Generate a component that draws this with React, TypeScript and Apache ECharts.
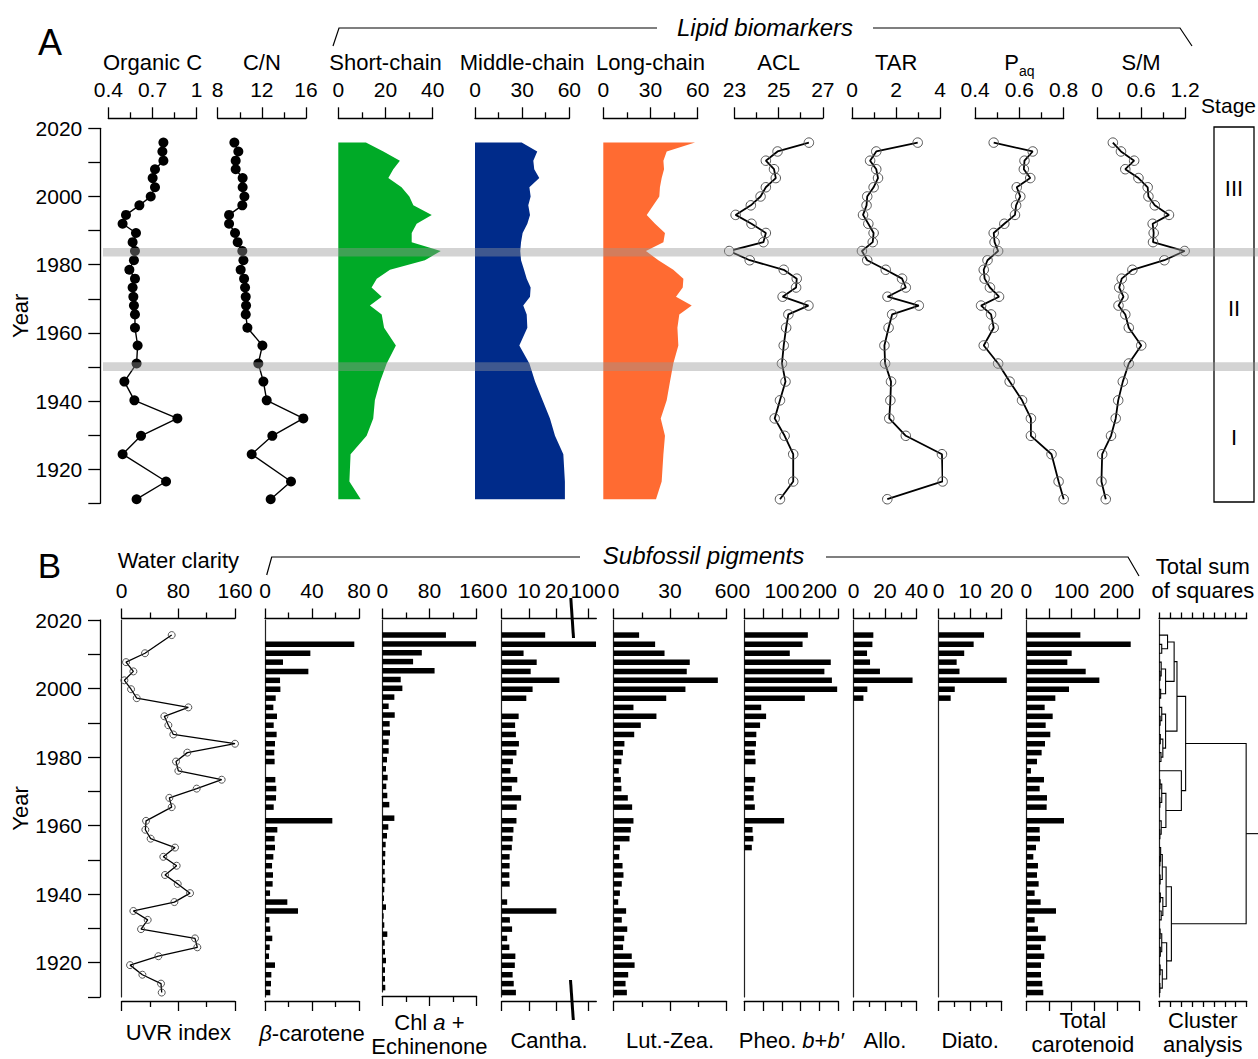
import React, { useEffect, useRef } from "react";
import * as echarts from "echarts";

const FONT = '"Liberation Sans", Arial, Helvetica, sans-serif';
const BLACK = "#000";

// ---------------- Panel A : lipid biomarkers (30 samples) ----------------
const yearsA = [2015.8, 2013.2, 2010.5, 2008.0, 2005.4, 2002.7, 2000.0, 1997.4, 1994.6, 1992.0, 1989.3, 1986.6, 1984.0, 1981.3, 1978.5, 1975.9, 1973.3, 1970.6, 1968.0, 1965.4, 1961.5, 1956.3, 1951.0, 1945.7, 1940.2, 1934.9, 1929.8, 1924.4, 1916.4, 1911.2];
const organicC = [0.774, 0.767, 0.774, 0.717, 0.701, 0.717, 0.688, 0.611, 0.52, 0.497, 0.588, 0.565, 0.581, 0.574, 0.543, 0.581, 0.565, 0.57, 0.574, 0.581, 0.581, 0.599, 0.592, 0.509, 0.577, 0.869, 0.622, 0.497, 0.792, 0.592];
const cnRatio = [9.51, 9.87, 9.63, 9.63, 10.26, 10.26, 10.42, 10.23, 9.03, 9.03, 9.57, 9.81, 10.23, 10.33, 10.08, 10.39, 10.48, 10.54, 10.57, 10.54, 10.69, 12.05, 11.68, 12.14, 12.44, 15.76, 12.95, 11.08, 14.64, 12.8];
const shortChain = [11.7, 19.1, 26.1, 23.3, 21.2, 26.8, 30.1, 31.8, 39.6, 33.2, 31.1, 31.1, 43.4, 36.7, 21.9, 16.3, 14.1, 18.4, 13.4, 18.4, 19.4, 24.4, 20.5, 17.7, 15.5, 14.8, 12.0, 5.2, 4.7, 9.5];
const middleChain = [29.7, 39.6, 37.1, 37.7, 40.9, 34.6, 35.4, 33.9, 35.0, 33.3, 30.3, 29.3, 28.8, 29.3, 31.2, 32.9, 35.4, 35.0, 30.7, 32.9, 33.3, 28.2, 34.6, 38.2, 43.0, 47.7, 50.9, 56.2, 57.2, 57.2];
const longChain = [58.3, 40.3, 38.2, 38.6, 37.1, 36.0, 35.6, 31.8, 27.6, 32.9, 39.2, 38.2, 27.1, 35.0, 44.5, 50.9, 50.5, 46.2, 56.2, 48.3, 47.1, 47.7, 44.5, 42.4, 40.3, 36.5, 39.2, 38.2, 37.1, 33.5];
const acl = [26.37, 24.95, 24.42, 24.79, 24.87, 24.42, 24.18, 23.74, 23.05, 23.77, 24.42, 24.31, 22.76, 23.69, 25.23, 25.82, 25.79, 25.18, 26.35, 25.44, 25.34, 25.23, 25.15, 25.31, 25.06, 24.82, 25.27, 25.66, 25.66, 25.06];
const tar = [2.98, 1.1, 0.82, 1.1, 1.18, 0.98, 0.69, 0.66, 0.5, 0.74, 0.98, 0.94, 0.45, 0.69, 1.53, 2.27, 2.44, 1.61, 3.03, 1.82, 1.66, 1.47, 1.5, 1.77, 1.74, 1.69, 2.44, 4.08, 4.11, 1.6];
const paq = [0.484, 0.66, 0.623, 0.62, 0.649, 0.588, 0.604, 0.585, 0.58, 0.532, 0.484, 0.488, 0.504, 0.456, 0.439, 0.443, 0.467, 0.508, 0.427, 0.472, 0.484, 0.439, 0.504, 0.556, 0.612, 0.652, 0.652, 0.745, 0.777, 0.8];
const smRatio = [0.214, 0.325, 0.505, 0.384, 0.564, 0.69, 0.7, 0.787, 0.981, 0.758, 0.772, 0.763, 1.195, 0.918, 0.481, 0.335, 0.301, 0.359, 0.291, 0.384, 0.432, 0.602, 0.432, 0.35, 0.287, 0.253, 0.189, 0.068, 0.058, 0.117];
const stageBands = [[1982.4, 1984.9], [1948.8, 1951.4]];
const stageLabels = ["III", "II", "I"];

// ---------------- Panel B : water clarity & subfossil pigments (40 samples) ----------------
const yearsB = [2015.6, 2012.9, 2010.3, 2007.7, 2005.0, 2002.4, 1999.8, 1997.2, 1994.5, 1991.9, 1989.3, 1986.6, 1983.9, 1981.3, 1978.7, 1976.0, 1973.4, 1970.8, 1968.1, 1965.4, 1961.4, 1958.8, 1956.2, 1953.6, 1950.9, 1948.3, 1945.6, 1943.0, 1940.3, 1937.7, 1935.1, 1932.5, 1929.8, 1927.1, 1924.5, 1921.9, 1919.3, 1916.5, 1913.9, 1911.3];
const uvrIndex = [70.6, null, 32.9, 6.1, 16.5, 3.8, 13.2, 21.2, 94.1, 60.2, 65.9, 72.9, 160, 92.7, 76.7, 80.0, 141.2, 105.9, 67.3, 70.6, 34.4, 33.4, 40.9, 75.3, 58.8, 77.6, 61.2, 79.1, 96.5, 74.4, 16.5, 36.7, 27.3, 103.5, 106.8, 51.8, 11.8, 29.2, 55.5, 56.5];
const betaCarotene = [null, 76.0, 38.6, 15.3, 36.9, 12.8, 13.1, 9.1, 7.1, 10.2, 7.4, 9.9, 8.5, 7.9, 8.2, null, 8.8, 9.6, 9.4, 7.4, 57.3, 10.5, 8.2, 8.5, 7.1, 6.0, 6.8, 6.5, 4.3, 19.0, 28.1, 3.7, 4.5, 6.2, 4.0, 3.4, 8.5, 5.4, 5.1, 4.5];
const chlEchinenone = [108.1, 159.3, 67.1, 52.3, 88.8, 31.3, 34.1, 20.5, 10.8, 21.1, 12.5, 13.1, 10.8, 10.8, 8.0, 6.3, 9.1, 6.8, 8.5, 11.9, 20.5, 10.2, 8.0, 5.7, 5.1, 4.6, 4.0, 5.1, 3.4, 2.8, 6.3, 2.3, 3.4, 8.5, 4.0, 4.6, 6.3, 4.6, 4.6, 5.1];
const canthaxanthin = [15.9, 102.9, 8.0, 12.8, 10.6, 21.1, 11.3, 9.0, null, 6.2, 4.9, 5.2, 6.3, 5.4, 4.1, 3.2, 5.7, 3.7, 7.1, 5.5, 5.4, 4.3, 4.0, 3.7, 2.9, 2.9, 2.8, 2.9, null, 2.0, 20.0, 3.0, 3.8, 2.0, 2.8, 5.0, 4.8, 4.0, 4.4, 5.2];
const luteinZeaxanthin = [13.6, 22.1, 27.1, 40.5, 38.9, 55.4, 38.2, 28.0, 10.6, 22.8, 14.5, 11.0, 5.8, 5.0, 4.2, 2.8, 3.9, 4.2, 7.6, 9.9, 10.6, 9.2, 8.5, 3.4, 3.0, 4.8, 5.3, 4.4, 3.4, 2.5, 6.7, 4.4, 7.3, 5.7, 5.1, 9.7, 11.2, 7.8, 6.4, 7.1];
const pheophytinB = [169, 155, 121, 230, 213, 233, 247, 161, 45, 58, 42, 32, 31, 28, 30, null, 29, 25, 25, 28, 106, 22, 24, 20]; // only the upper 24 samples
const alloxanthin = [12.6, 12.0, 8.6, 10.5, 16.8, 37.5, 8.8, 6.3]; // upper 8 samples
const diatoxanthin = [14.4, 11.1, 8.1, 5.7, 6.6, 21.6, 5.1, 3.8]; // upper 8 samples
const totalCarotenoid = [119.5, 230.8, 100.3, 90.7, 131.3, 161.5, 94.4, 64.2, 40.6, 58.3, 42.8, 53.1, 41.3, 33.9, 23.6, 10.3, 39.1, 29.5, 45.7, 45.0, 83.3, 29.5, 30.2, 21.4, 15.5, 25.8, 23.6, 27.3, 18.4, 31.7, 65.6, 18.4, 25.8, 42.8, 32.5, 39.8, 32.5, 32.5, 35.4, 37.6];
// CONISS merges: [first sample, last sample of upper part, last sample, total sum of squares]
const clusterMerges = [
  [0, 22, 39, 7.95],
  [0, 14, 22, 2.43],
  [0, 7, 14, 1.64],
  [0, 2, 7, 1.38],
  [0, 0, 2, 0.78],
  [1, 1, 2, 0.25],
  [3, 5, 7, 0.6],
  [3, 3, 5, 0.2],
  [4, 4, 5, 0.1],
  [6, 6, 7, 0.15],
  [8, 10, 14, 0.6],
  [8, 8, 10, 0.25],
  [9, 9, 10, 0.1],
  [11, 12, 14, 0.35],
  [11, 11, 12, 0.12],
  [13, 13, 14, 0.18],
  [15, 15, 22, 2.04],
  [16, 19, 22, 0.63],
  [16, 17, 19, 0.25],
  [16, 16, 17, 0.1],
  [18, 18, 19, 0.08],
  [20, 20, 22, 0.2],
  [21, 21, 22, 0.08],
  [23, 31, 39, 1.13],
  [23, 27, 31, 0.65],
  [23, 25, 27, 0.3],
  [23, 23, 25, 0.15],
  [24, 24, 25, 0.08],
  [26, 26, 27, 0.1],
  [28, 29, 31, 0.35],
  [28, 28, 29, 0.12],
  [30, 30, 31, 0.2],
  [32, 35, 39, 0.7],
  [32, 33, 35, 0.25],
  [32, 32, 33, 0.1],
  [34, 34, 35, 0.12],
  [36, 37, 39, 0.3],
  [36, 36, 37, 0.1],
  [38, 38, 39, 0.08],
];

// Canthaxanthin axis is broken between these two values
const CANTHA_BREAK = 25.5;
const CANTHA_RESUME = 93.9;
const canthaPos = (v: number) => (v <= CANTHA_BREAK ? v : CANTHA_BREAK + (v - CANTHA_RESUME));

// ---------------- layout ----------------
const Y_MIN = 1910;
const Y_MAX = 2020;
const A_TOP = 128.3;
const A_H = 375;
const B_TOP = 620;
const B_H = 377;
const B_BOTTOM_OFFSET = 4;
const BAR_H = 5.5;

const fmtNum = (v: number) => String(Math.round(v * 1000) / 1000);
const txt = (size: number, extra: any = {}) => ({ fontSize: size, color: BLACK, fontFamily: FONT, ...extra });
const AX_LINE = { show: true, onZero: false, lineStyle: { color: BLACK, width: 1.3 } };
const italic = { fontSize: 22, fontFamily: FONT, color: BLACK, fontStyle: "italic", lineHeight: 24 };
const plain = { fontSize: 22, fontFamily: FONT, color: BLACK, lineHeight: 24 };

function buildOption() {
  const grid: any[] = [];
  const xAxis: any[] = [];
  const yAxis: any[] = [];
  const series: any[] = [];

  const addGrid = (x0: number, x1: number, top: number, height: number) => {
    grid.push({ left: x0, top, width: x1 - x0, height, containLabel: false });
    return grid.length - 1;
  };
  const labelFmt = (labels?: number[]) => (v: number) =>
    !labels || labels.some((l) => Math.abs(l - v) < 1e-6) ? fmtNum(v) : "";

  const addX = (g: number, c: any, position: "top" | "bottom", opts: any) => {
    const tickLen = opts.tickLen ?? 11;
    const ax: any = {
      gridIndex: g,
      type: "value",
      position,
      offset: opts.offset ?? 0,
      min: c.min,
      max: c.max,
      axisLine: AX_LINE,
      axisTick: { show: true, length: tickLen, lineStyle: { color: BLACK, width: 1.3 } },
      minorTick: { show: !!c.minor, splitNumber: c.minor || 2, length: Math.round(tickLen * 0.55), lineStyle: { color: BLACK, width: 1.3 } },
      splitLine: { show: false },
      minorSplitLine: { show: false },
      axisLabel: opts.labels
        ? { show: true, margin: 18, hideOverlap: false, ...txt(21), formatter: c.fmt || labelFmt(c.labels) }
        : { show: false },
      name: opts.name,
      nameLocation: "middle",
      nameGap: opts.nameGap,
      nameTextStyle: { ...txt(22), lineHeight: 24, rich: opts.rich },
    };
    if (c.interval != null) ax.interval = c.interval;
    if (c.custom) {
      ax.axisTick.customValues = c.custom;
      if (opts.labels) ax.axisLabel.customValues = c.custom;
    }
    xAxis.push(ax);
    return xAxis.length - 1;
  };
  const addHiddenY = (g: number) => {
    yAxis.push({ gridIndex: g, type: "value", min: Y_MIN, max: Y_MAX, show: false });
    return yAxis.length - 1;
  };
  const addYearAxis = (g: number, offset: number) => {
    yAxis.push({
      gridIndex: g,
      type: "value",
      position: "left",
      offset,
      min: Y_MIN,
      max: Y_MAX,
      interval: 10,
      axisLine: AX_LINE,
      axisTick: { show: true, length: 12, lineStyle: { color: BLACK, width: 1.3 } },
      axisLabel: { show: true, margin: 18, ...txt(21), formatter: (v: number) => (v % 20 === 0 ? String(v) : "") },
      splitLine: { show: false },
      name: "Year",
      nameLocation: "middle",
      nameGap: 68,
      nameTextStyle: txt(22),
    });
    return yAxis.length - 1;
  };
  const addBaseline = (g: number) => {
    yAxis.push({
      gridIndex: g,
      type: "value",
      position: "left",
      offset: 0,
      min: Y_MIN,
      max: Y_MAX,
      axisLine: { show: true, onZero: false, lineStyle: { color: "#222", width: 1.2 } },
      axisTick: { show: false },
      axisLabel: { show: false },
      splitLine: { show: false },
    });
    return yAxis.length - 1;
  };

  // ---- panel A columns ----
  const paqRich = {
    p: { fontSize: 22, fontFamily: FONT, color: BLACK, padding: [0, 0, 5, 0], verticalAlign: "bottom" },
    s: { fontSize: 14, fontFamily: FONT, color: BLACK, verticalAlign: "bottom" },
  };
  const colsA: any = {
    orgC: { name: "Organic C", x0: 108.3, x1: 196.7, min: 0.4, max: 1, interval: 0.3, minor: 2 },
    cn: { name: "C/N", x0: 217.7, x1: 306, min: 8, max: 16, interval: 4, minor: 2 },
    short: { name: "Short-chain", x0: 338.3, x1: 432.7, min: 0, max: 40, interval: 20, minor: 2 },
    middle: { name: "Middle-chain", x0: 475, x1: 569.3, min: 0, max: 60, interval: 30, minor: 2 },
    long: { name: "Long-chain", x0: 603.3, x1: 697.7, min: 0, max: 60, interval: 30, minor: 2 },
    acl: { name: "ACL", x0: 734.5, x1: 822.8, min: 23, max: 27, interval: 2, minor: 2 },
    tar: { name: "TAR", x0: 852, x1: 940.2, min: 0, max: 4, interval: 2, minor: 2 },
    paq: { name: "{p|P}{s|aq}", rich: paqRich, gap: 39, x0: 975.1, x1: 1063.7, min: 0.4, max: 0.8, interval: 0.2, minor: 2 },
    sm: { name: "S/M", x0: 1097.2, x1: 1185, min: 0, max: 1.2, interval: 0.6, minor: 2 },
  };
  const axA: any = {};
  Object.keys(colsA).forEach((k, i) => {
    const c = colsA[k];
    const g = addGrid(c.x0, c.x1, A_TOP, A_H);
    const xi = addX(g, c, "top", { offset: 10, labels: true, name: c.name, rich: c.rich, nameGap: c.gap ?? 44 });
    const yi = i === 0 ? addYearAxis(g, 8) : addHiddenY(g);
    axA[k] = { xi, yi };
  });

  const dotLine = (k: string, vals: number[], filled: boolean) => {
    series.push({
      type: "line",
      xAxisIndex: axA[k].xi,
      yAxisIndex: axA[k].yi,
      data: yearsA.map((y, i) => [vals[i], y]),
      clip: false,
      symbol: "circle",
      showSymbol: true,
      symbolSize: filled ? 10 : 9.5,
      itemStyle: filled
        ? { color: BLACK }
        : { color: "rgba(255,255,255,0)", borderColor: "#555", borderWidth: 1 },
      lineStyle: { color: BLACK, width: filled ? 1.4 : 1.8 },
      silent: true,
      z: 3,
    });
  };
  const area = (k: string, vals: number[], color: string) => {
    const ys = yearsA;
    series.push({
      type: "custom",
      xAxisIndex: axA[k].xi,
      yAxisIndex: axA[k].yi,
      data: ys.map((y, i) => [vals[i], y]),
      silent: true,
      z: 2,
      renderItem: (params: any, api: any) => {
        if (params.dataIndex !== 0) return { type: "group", children: [] };
        const pts: number[][] = [api.coord([0, ys[0]])];
        vals.forEach((v, i) => pts.push(api.coord([v, ys[i]])));
        pts.push(api.coord([0, ys[ys.length - 1]]));
        return { type: "polygon", shape: { points: pts }, style: { fill: color } };
      },
    });
  };
  dotLine("orgC", organicC, true);
  dotLine("cn", cnRatio, true);
  area("short", shortChain, "#00aa27");
  area("middle", middleChain, "#002b8a");
  area("long", longChain, "#ff6b32");
  dotLine("acl", acl, false);
  dotLine("tar", tar, false);
  dotLine("paq", paq, false);
  dotLine("sm", smRatio, false);

  // grey bands across panel A
  const gBand = addGrid(103, 1258, A_TOP, A_H);
  xAxis.push({ gridIndex: gBand, type: "value", min: 0, max: 1, show: false });
  const bandX = xAxis.length - 1;
  const bandY = addHiddenY(gBand);
  series.push({
    type: "custom",
    xAxisIndex: bandX,
    yAxisIndex: bandY,
    data: stageBands,
    silent: true,
    z: 10,
    renderItem: (_p: any, api: any) => {
      const lo = api.value(0);
      const hi = api.value(1);
      const p0 = api.coord([0, hi]);
      const p1 = api.coord([1, lo]);
      return { type: "rect", shape: { x: p0[0], y: p0[1], width: p1[0] - p0[0], height: p1[1] - p0[1] }, style: { fill: "rgba(150,150,150,0.42)" } };
    },
  });

  // ---- panel B columns ----
  const colsB: any = {
    uvr: { top: "Water clarity", topGap: 46, bottom: "UVR index", bottomGap: 19, x0: 121.7, x1: 235, min: 0, max: 160, interval: 80, minor: 2 },
    beta: { bottom: "{i|β}-carotene", bottomGap: 20, x0: 265, x1: 359, min: 0, max: 80, interval: 40, minor: 2 },
    chl: { bottom: "Chl {i|a} +\nEchinenone", bottomGap: 14, x0: 382.3, x1: 476.5, min: 0, max: 160, interval: 80, minor: 2 },
    cantha: {
      bottom: "Cantha.", bottomGap: 27, x0: 501.7, x1: 596.3, min: 0, max: canthaPos(103),
      custom: [0, 10, 20, canthaPos(100)],
      fmt: (v: number) => (v > CANTHA_BREAK ? "100" : fmtNum(v)),
    },
    lut: { bottom: "Lut.-Zea.", bottomGap: 27, x0: 613.5, x1: 726.5, min: 0, max: 60, interval: 30, minor: 2 },
    pheo: { bottom: "Pheo. {i|b}+{i|b′}", bottomGap: 27, x0: 744.3, x1: 838.3, min: 0, max: 250, interval: 50, labels: [0, 100, 200] },
    allo: { bottom: "Allo.", bottomGap: 27, x0: 853.5, x1: 916.5, min: 0, max: 40, interval: 20, minor: 2 },
    diato: { bottom: "Diato.", bottomGap: 27, x0: 938.7, x1: 1001.7, min: 0, max: 20, interval: 10, minor: 2 },
    total: { bottom: "Total\ncarotenoid", bottomGap: 7, x0: 1026.3, x1: 1139.4, min: 0, max: 250, interval: 50, labels: [0, 100, 200] },
    cluster: { top: "Total sum\nof squares", topGap: 16, bottom: "Cluster\nanalysis", bottomGap: 7, x0: 1159, x1: 1246.7, min: 0, max: 8, interval: 1, noLabels: true },
  };
  const richB = { i: italic, n: plain };
  const axB: any = {};
  Object.keys(colsB).forEach((k, i) => {
    const c = colsB[k];
    const g = addGrid(c.x0, c.x1, B_TOP, B_H);
    const tl = c.noLabels ? 6 : 10;
    const xi = addX(g, c, "top", { offset: 1.5, tickLen: tl, labels: !c.noLabels, name: c.top, nameGap: c.topGap, rich: richB });
    addX(g, c, "bottom", { offset: B_BOTTOM_OFFSET, tickLen: tl, labels: false, name: c.bottom, nameGap: c.bottomGap, rich: richB });
    let yi: number;
    if (i === 0) {
      yi = addYearAxis(g, c.x0 - 100);
      addBaseline(g);
    } else {
      yi = addBaseline(g);
    }
    axB[k] = { xi, yi };
  });

  series.push({
    type: "line",
    xAxisIndex: axB.uvr.xi,
    yAxisIndex: axB.uvr.yi,
    data: yearsB.map((y, i) => [uvrIndex[i], y]).filter((d) => d[0] != null),
    clip: false,
    symbol: "circle",
    symbolSize: 7,
    itemStyle: { color: "rgba(255,255,255,0)", borderColor: "#444", borderWidth: 0.9 },
    lineStyle: { color: BLACK, width: 1.3 },
    silent: true,
    z: 3,
  });

  const bars = (k: string, vals: (number | null)[], xform?: (v: number) => number) => {
    const data: number[][] = [];
    vals.forEach((v, i) => {
      if (v != null) data.push([v, yearsB[i]]);
    });
    series.push({
      type: "custom",
      xAxisIndex: axB[k].xi,
      yAxisIndex: axB[k].yi,
      data,
      silent: true,
      z: 2,
      renderItem: (_p: any, api: any) => {
        const v = api.value(0);
        const y = api.value(1);
        const p0 = api.coord([0, y]);
        const p1 = api.coord([xform ? xform(v) : v, y]);
        return { type: "rect", shape: { x: p0[0], y: p0[1] - BAR_H / 2, width: p1[0] - p0[0], height: BAR_H }, style: { fill: BLACK } };
      },
    });
  };
  bars("beta", betaCarotene);
  bars("chl", chlEchinenone);
  bars("cantha", canthaxanthin, canthaPos);
  bars("lut", luteinZeaxanthin);
  bars("pheo", pheophytinB);
  bars("allo", alloxanthin);
  bars("diato", diatoxanthin);
  bars("total", totalCarotenoid);

  // ---- dendrogram (CONISS) ----
  const byRange = new Map<string, number[]>();
  clusterMerges.forEach((m) => byRange.set(m[0] + "-" + m[2], m));
  const node = (s: number, e: number): { h: number; y: number } => {
    if (s === e) return { h: 0, y: yearsB[s] };
    const m = byRange.get(s + "-" + e)!;
    const a = node(m[0], m[1]);
    const b = node(m[1] + 1, m[2]);
    return { h: m[3], y: (a.y + b.y) / 2 };
  };
  const dendroRows = clusterMerges.map((m) => {
    const a = node(m[0], m[1]);
    const b = node(m[1] + 1, m[2]);
    return [a.h, a.y, m[3], b.h, b.y];
  });
  const root = node(0, yearsB.length - 1);
  series.push({
    type: "custom",
    xAxisIndex: axB.cluster.xi,
    yAxisIndex: axB.cluster.yi,
    data: dendroRows,
    silent: true,
    clip: false,
    z: 3,
    renderItem: (_p: any, api: any) => {
      const h = api.value(2);
      const pts = [
        api.coord([api.value(0), api.value(1)]),
        api.coord([h, api.value(1)]),
        api.coord([h, api.value(4)]),
        api.coord([api.value(3), api.value(4)]),
      ];
      return { type: "polyline", shape: { points: pts }, style: { stroke: BLACK, lineWidth: 1.1, fill: null } };
    },
  });
  series.push({
    type: "custom",
    xAxisIndex: axB.cluster.xi,
    yAxisIndex: axB.cluster.yi,
    data: [[root.h, root.y, 9.05]],
    silent: true,
    clip: false,
    z: 3,
    renderItem: (_p: any, api: any) => {
      const p0 = api.coord([api.value(0), api.value(1)]);
      const p1 = api.coord([api.value(2), api.value(1)]);
      return { type: "line", shape: { x1: p0[0], y1: p0[1], x2: p1[0], y2: p1[1] }, style: { stroke: BLACK, lineWidth: 1.1 } };
    },
  });

  // ---- decorations ----
  const line = (pts: number[][], w = 1.2) => ({ type: "polyline", shape: { points: pts }, style: { stroke: BLACK, lineWidth: w, fill: null }, silent: true });
  const label = (x: number, y: number, text: string, size: number, extra: any = {}) => ({
    type: "text",
    x,
    y,
    silent: true,
    style: { text, fontSize: size, fontFamily: FONT, fill: BLACK, align: "center", verticalAlign: "middle", ...extra },
  });
  const graphic = [
    label(50, 42, "A", 36),
    label(49.5, 565, "B", 35),
    line([[333, 46], [339, 28], [657, 28]]),
    line([[873, 28], [1180, 28], [1192, 46]]),
    label(765, 27, "Lipid biomarkers", 24, { fontStyle: "italic" }),
    line([[266.7, 575], [271.7, 557], [580, 557]]),
    line([[826, 557], [1128, 557], [1139, 576]]),
    label(703.5, 555, "Subfossil pigments", 24, { fontStyle: "italic" }),
    label(1256, 105, "Stage", 21, { align: "right" }),
    { type: "rect", shape: { x: 1214, y: 127, width: 40, height: 375 }, style: { fill: "rgba(0,0,0,0)", stroke: BLACK, lineWidth: 1.3 }, silent: true },
    label(1234, 188, stageLabels[0], 22),
    label(1234, 308, stageLabels[1], 22),
    label(1234, 437, stageLabels[2], 22),
    line([[570.8, 598], [573.5, 638]], 3),
    line([[570.5, 980], [573.3, 1020]], 3),
  ];

  return {
    animation: false,
    backgroundColor: "#fff",
    textStyle: { fontFamily: FONT },
    grid,
    xAxis,
    yAxis,
    series,
    graphic,
  };
}

export default function App() {
  const ref = useRef<HTMLDivElement>(null);
  useEffect(() => {
    if (!ref.current) return;
    const chart = echarts.init(ref.current, undefined, { renderer: "svg" });
    chart.setOption(buildOption() as any);
    return () => chart.dispose();
  }, []);
  return (
    <div
      ref={ref}
      style={{ position: "fixed", left: 0, top: 0, width: 1258, height: 1059, background: "#fff" }}
    />
  );
}
